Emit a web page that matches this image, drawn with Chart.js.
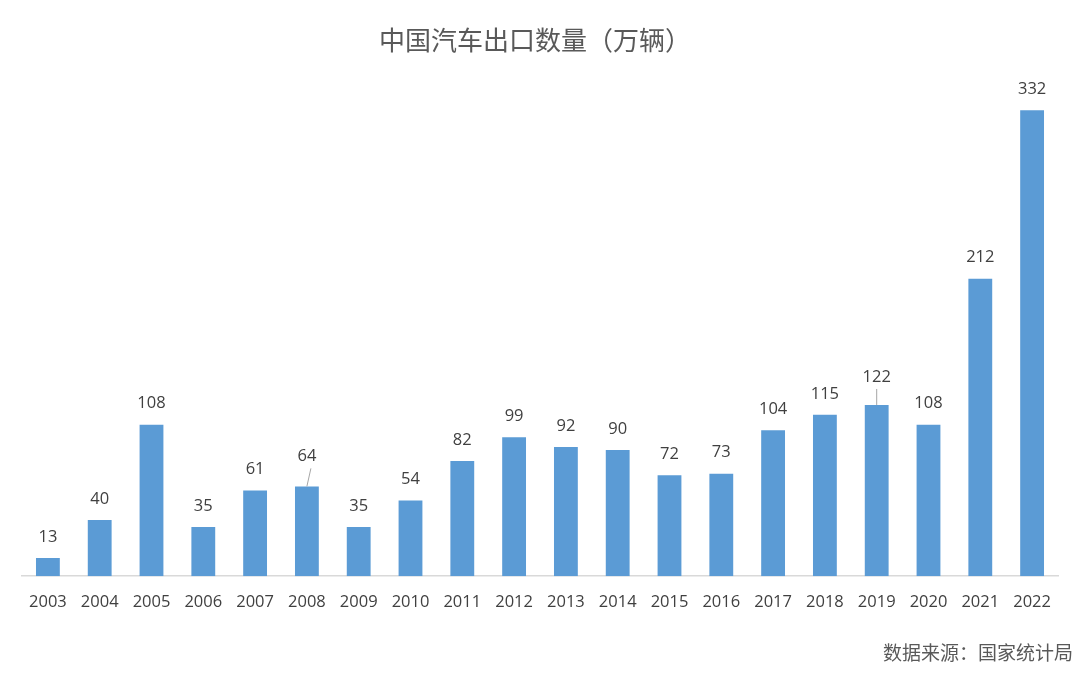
<!DOCTYPE html>
<html><head><meta charset="utf-8">
<script src="https://cdn.jsdelivr.net/npm/chart.js@4/dist/chart.umd.min.js"></script>
<style>html,body{margin:0;padding:0;background:#fff;}#wrap{width:1080px;height:676px;position:relative;}</style>
</head><body><div id="wrap"><canvas id="c" width="1080" height="676"></canvas></div>
<script>
const categories = ['2003','2004','2005','2006','2007','2008','2009','2010','2011','2012','2013','2014','2015','2016','2017','2018','2019','2020','2021','2022'];
const exportsWan = [13,40,108,35,61,64,35,54,82,99,92,90,72,73,104,115,122,108,212,332];
const titleText = '中国汽车出口数量（万辆）';
const sourceText = '数据来源：国家统计局';

const FONT = '"Noto Sans CJK SC", sans-serif';
const NUMFONT = '"Open Sans", "Noto Sans CJK SC", sans-serif';
const TXT = '#595959';
const NUMTXT = '#404040';
// labels lifted with a leader line (index -> extra lift px, leader x shift)
const leader = {5: {lift: 9, dx: 4}, 16: {lift: 7, dx: 0}};

const decor = {
  id: 'decor',
  afterDatasetsDraw(chart) {
    const ctx = chart.ctx;
    const meta = chart.getDatasetMeta(0);
    ctx.save();
    ctx.font = '16.5px ' + NUMFONT;
    ctx.fillStyle = NUMTXT;
    ctx.textAlign = 'center';
    ctx.textBaseline = 'middle';
    meta.data.forEach((bar, i) => {
      const l = leader[i];
      const lift = 21 + (l ? l.lift : 0);
      const y = bar.y - lift;
      ctx.fillText(String(exportsWan[i]), bar.x, y);
      if (l) {
        ctx.strokeStyle = '#a6a6a6';
        ctx.lineWidth = 1;
        ctx.beginPath();
        ctx.moveTo(bar.x + l.dx, y + 12);
        ctx.lineTo(bar.x, bar.y);
        ctx.stroke();
      }
    });
    // title
    ctx.font = '26px ' + FONT;
    ctx.fillStyle = TXT;
    ctx.textAlign = 'center';
    ctx.fillText(titleText, 535, 40);
    // source
    ctx.font = '19px ' + FONT;
    ctx.textAlign = 'right';
    ctx.fillText(sourceText, 1073, 653);
    ctx.restore();
  }
};

new Chart(document.getElementById('c'), {
  type: 'bar',
  data: {
    labels: categories,
    datasets: [{
      data: exportsWan,
      backgroundColor: '#5B9BD5',
      categoryPercentage: 1,
      barPercentage: 0.46
    }]
  },
  options: {
    responsive: false,
    animation: false,
    devicePixelRatio: 1,
    layout: {padding: {left: 22, right: 22, top: 85, bottom: 48}},
    plugins: {legend: {display: false}, tooltip: {enabled: false}, title: {display: false}},
    scales: {
      x: {
        grid: {display: false, drawTicks: false},
        border: {display: true, color: '#d9d9d9', width: 1.5},
        ticks: {color: NUMTXT, font: {size: 16.5, family: NUMFONT}, padding: 16, maxRotation: 0, autoSkip: false}
      },
      y: {display: false, min: 0, max: 350}
    }
  },
  plugins: [decor]
});
</script></body></html>
